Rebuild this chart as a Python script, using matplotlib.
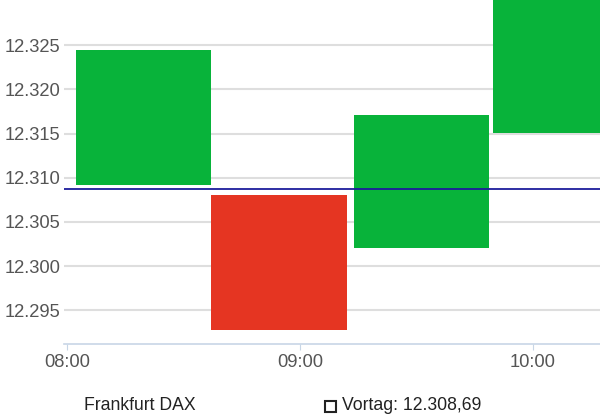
import matplotlib
matplotlib.use('Agg')
import matplotlib.pyplot as plt
from matplotlib.patches import Rectangle

# candle data (time in hours, values in points)
starts = [8.04, 8.62, 9.23, 9.83]
width = 0.58
opens = [12.3092, 12.3080, 12.3021, 12.3151]
closes = [12.3244, 12.2928, 12.3171, 12.3330]
vortag = 12.30869

tick_pos = [8, 9, 10]
tick_labels = ['08:00', '09:00', '10:00']
yticks = [12.295, 12.300, 12.305, 12.310, 12.315, 12.320, 12.325]

green = '#08b33a'
red = '#e53522'

plt.rcParams['font.family'] = ['Liberation Sans', 'DejaVu Sans']

fig = plt.figure(figsize=(6, 4.2), dpi=100)
ax = fig.add_axes([64/600, 1-344/420, 536/600, 344/420])

for s, o, c in zip(starts, opens, closes):
    col = green if c >= o else red
    ax.add_patch(Rectangle((s, min(o, c)), width, abs(c-o), facecolor=col, edgecolor='none', zorder=3))

ax.axhline(vortag, color='#1c1c9c', lw=1.3, zorder=4)

ax.set_xlim(7.987, 10.2876)
ax.set_ylim(12.2912, 12.3301)
ax.set_yticks(yticks)
ax.set_yticklabels([f'{v:.3f}' for v in yticks])
ax.set_xticks(tick_pos)
ax.set_xticklabels(tick_labels)
ax.grid(axis='y', color='#dedede', lw=1.5, zorder=0)
for sp in ['top', 'right', 'left']:
    ax.spines[sp].set_visible(False)
ax.spines['bottom'].set_color('#c8d6e6')
ax.spines['bottom'].set_linewidth(1.2)
ax.tick_params(axis='y', length=0, pad=2.5, labelsize=13.2, labelcolor='#555555')
ax.tick_params(axis='x', length=4, color='#c8d6e6', pad=3, labelsize=13.2, labelcolor='#555555')

fig.text(84/600, 1-406/420, 'Frankfurt DAX', fontsize=12.7, color='#222222', va='center')
fig.patches.append(Rectangle((325/600, 1-411.5/420), 11/600, 11/420, transform=fig.transFigure,
                             facecolor='white', edgecolor='#222222', lw=1.5, figure=fig))
fig.text(342/600, 1-406/420, 'Vortag: 12.308,69', fontsize=12.7, color='#222222', va='center')

fig.savefig('out.png', dpi=100)
